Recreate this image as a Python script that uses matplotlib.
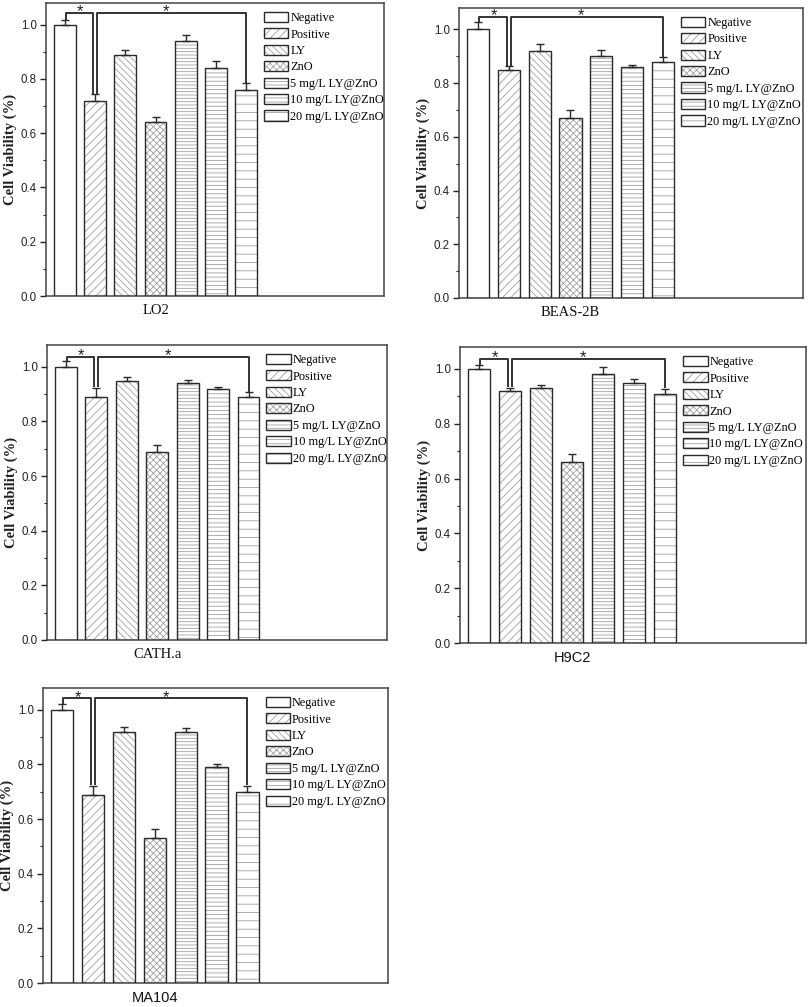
import matplotlib
matplotlib.use("Agg")
import matplotlib.pyplot as plt
import numpy as np

# ---------------- data ----------------
categories = ['Negative', 'Positive', 'LY', 'ZnO',
              '5 mg/L LY@ZnO', '10 mg/L LY@ZnO', '20 mg/L LY@ZnO']
cell_lines = ['LO2', 'BEAS-2B', 'CATH.a', 'H9C2', 'MA104']

lo2_vals = [1.00, 0.72, 0.89, 0.64, 0.94, 0.84, 0.76]
lo2_err = [0.018, 0.024, 0.017, 0.020, 0.021, 0.026, 0.024]
beas_vals = [1.00, 0.85, 0.92, 0.67, 0.90, 0.86, 0.88]
beas_err = [0.027, 0.013, 0.025, 0.030, 0.024, 0.008, 0.017]
cath_vals = [1.00, 0.89, 0.95, 0.69, 0.94, 0.92, 0.89]
cath_err = [0.020, 0.034, 0.012, 0.025, 0.011, 0.008, 0.017]
h9c2_vals = [1.00, 0.92, 0.93, 0.66, 0.98, 0.95, 0.91]
h9c2_err = [0.013, 0.012, 0.010, 0.029, 0.026, 0.012, 0.017]
ma104_vals = [1.00, 0.69, 0.92, 0.53, 0.92, 0.79, 0.70]
ma104_err = [0.023, 0.033, 0.018, 0.034, 0.012, 0.012, 0.023]

bracket_heights = [1.042, 1.046, 1.037, 1.036, 1.042]
yticks = [0.0, 0.2, 0.4, 0.6, 0.8, 1.0]

all_vals = [lo2_vals, beas_vals, cath_vals, h9c2_vals, ma104_vals]
all_err = [lo2_err, beas_err, cath_err, h9c2_err, ma104_err]

# ---------------- style ----------------
hatches = [None, '////', '\\\\\\\\\\', 'xxxxx', '-----', '----', '--']
hatch_color = '#a0a0a0'
edge = '#2a2a2a'
plt.rcParams['hatch.linewidth'] = 0.6
plt.rcParams['hatch.color'] = hatch_color
serif = 'Liberation Serif'
sans = 'Liberation Sans'
xlabel_fonts = [serif, serif, serif, sans, sans]

W, H = 809, 1007
fig = plt.figure(figsize=(W / 100, H / 100), dpi=100)

# axes boxes in pixels: left, right, top, bottom
boxes = [(46, 384, 3, 296), (459, 803, 8, 298), (47, 387, 345, 640),
         (460, 806, 347, 643), (43, 388, 688, 983)]

bw = 0.72
x = np.arange(len(categories))

for i, (l, r, t, b) in enumerate(boxes):
    ax = fig.add_axes([l / W, 1 - b / H, (r - l) / W, (b - t) / H])
    vals = np.array(all_vals[i])
    err = np.array(all_err[i])
    handles = []
    for j in range(len(categories)):
        hb = ax.bar(x[j], vals[j], width=bw, color='white', edgecolor=hatch_color,
                    hatch=hatches[j], linewidth=0, zorder=2)
        eb = ax.bar(x[j], vals[j], width=bw, color='none', edgecolor=edge,
                    linewidth=1.0, zorder=3)
        handles.append((hb.patches[0], eb.patches[0]))
    ax.errorbar(x, vals, yerr=[np.zeros_like(err), err], fmt='none',
                ecolor=edge, elinewidth=1.0, capsize=3.2, capthick=1.0, zorder=4)

    # significance brackets
    hgt = bracket_heights[i]
    top = vals + err
    lk = dict(color='#333333', lw=1.4, zorder=5, solid_capstyle='butt')
    ax.plot([x[0] + 0.04, x[0] + 0.04, x[1] - 0.07, x[1] - 0.07],
            [top[0], hgt, hgt, top[1] + 0.002], **lk)
    ax.plot([x[1] + 0.06, x[1] + 0.06, x[6], x[6]],
            [top[1] + 0.002, hgt, hgt, top[6] + 0.002], **lk)
    ax.text((x[0] + x[1]) / 2, hgt - 0.012, '*', ha='center', va='baseline',
            fontsize=12, family=sans, color='#222222', zorder=6)
    ax.text((x[1] + x[6]) / 2 - 0.15, hgt - 0.012, '*', ha='center', va='baseline',
            fontsize=12, family=sans, color='#222222', zorder=6)

    ax.set_xlim(-0.62, 10.55)
    ax.set_ylim(0, 1.08)
    ax.set_yticks(yticks)
    ax.set_yticklabels([f'{v:.1f}' for v in yticks], family=sans, fontsize=8.3)
    ax.set_yticks(np.arange(0.1, 1.05, 0.2), minor=True)
    ax.tick_params(axis='y', which='major', direction='out', length=4,
                   width=1, colors='#222222', pad=2.5)
    ax.tick_params(axis='y', which='minor', direction='out', length=2.5,
                   width=0.8, colors='#222222')
    ax.set_xticks([3])
    ax.set_xticklabels([cell_lines[i]], family=xlabel_fonts[i], fontsize=10.5)
    ax.tick_params(axis='x', length=0, pad=6, colors='#111111')
    for s in ax.spines.values():
        s.set_color('#444444')
        s.set_linewidth(1.1)
    ax.set_ylabel('Cell Viability (%)', family=serif, fontweight='bold',
                  fontsize=10.5, labelpad=3, color='#222222')

    ax.legend(handles, categories, loc='upper left', bbox_to_anchor=(0.645, 0.97),
              frameon=False, prop={'family': serif, 'size': 8.8},
              handlelength=2.0, handleheight=0.9, handletextpad=0.15,
              labelspacing=0.34, borderpad=0, borderaxespad=0)

fig.savefig('out.png', dpi=100)
